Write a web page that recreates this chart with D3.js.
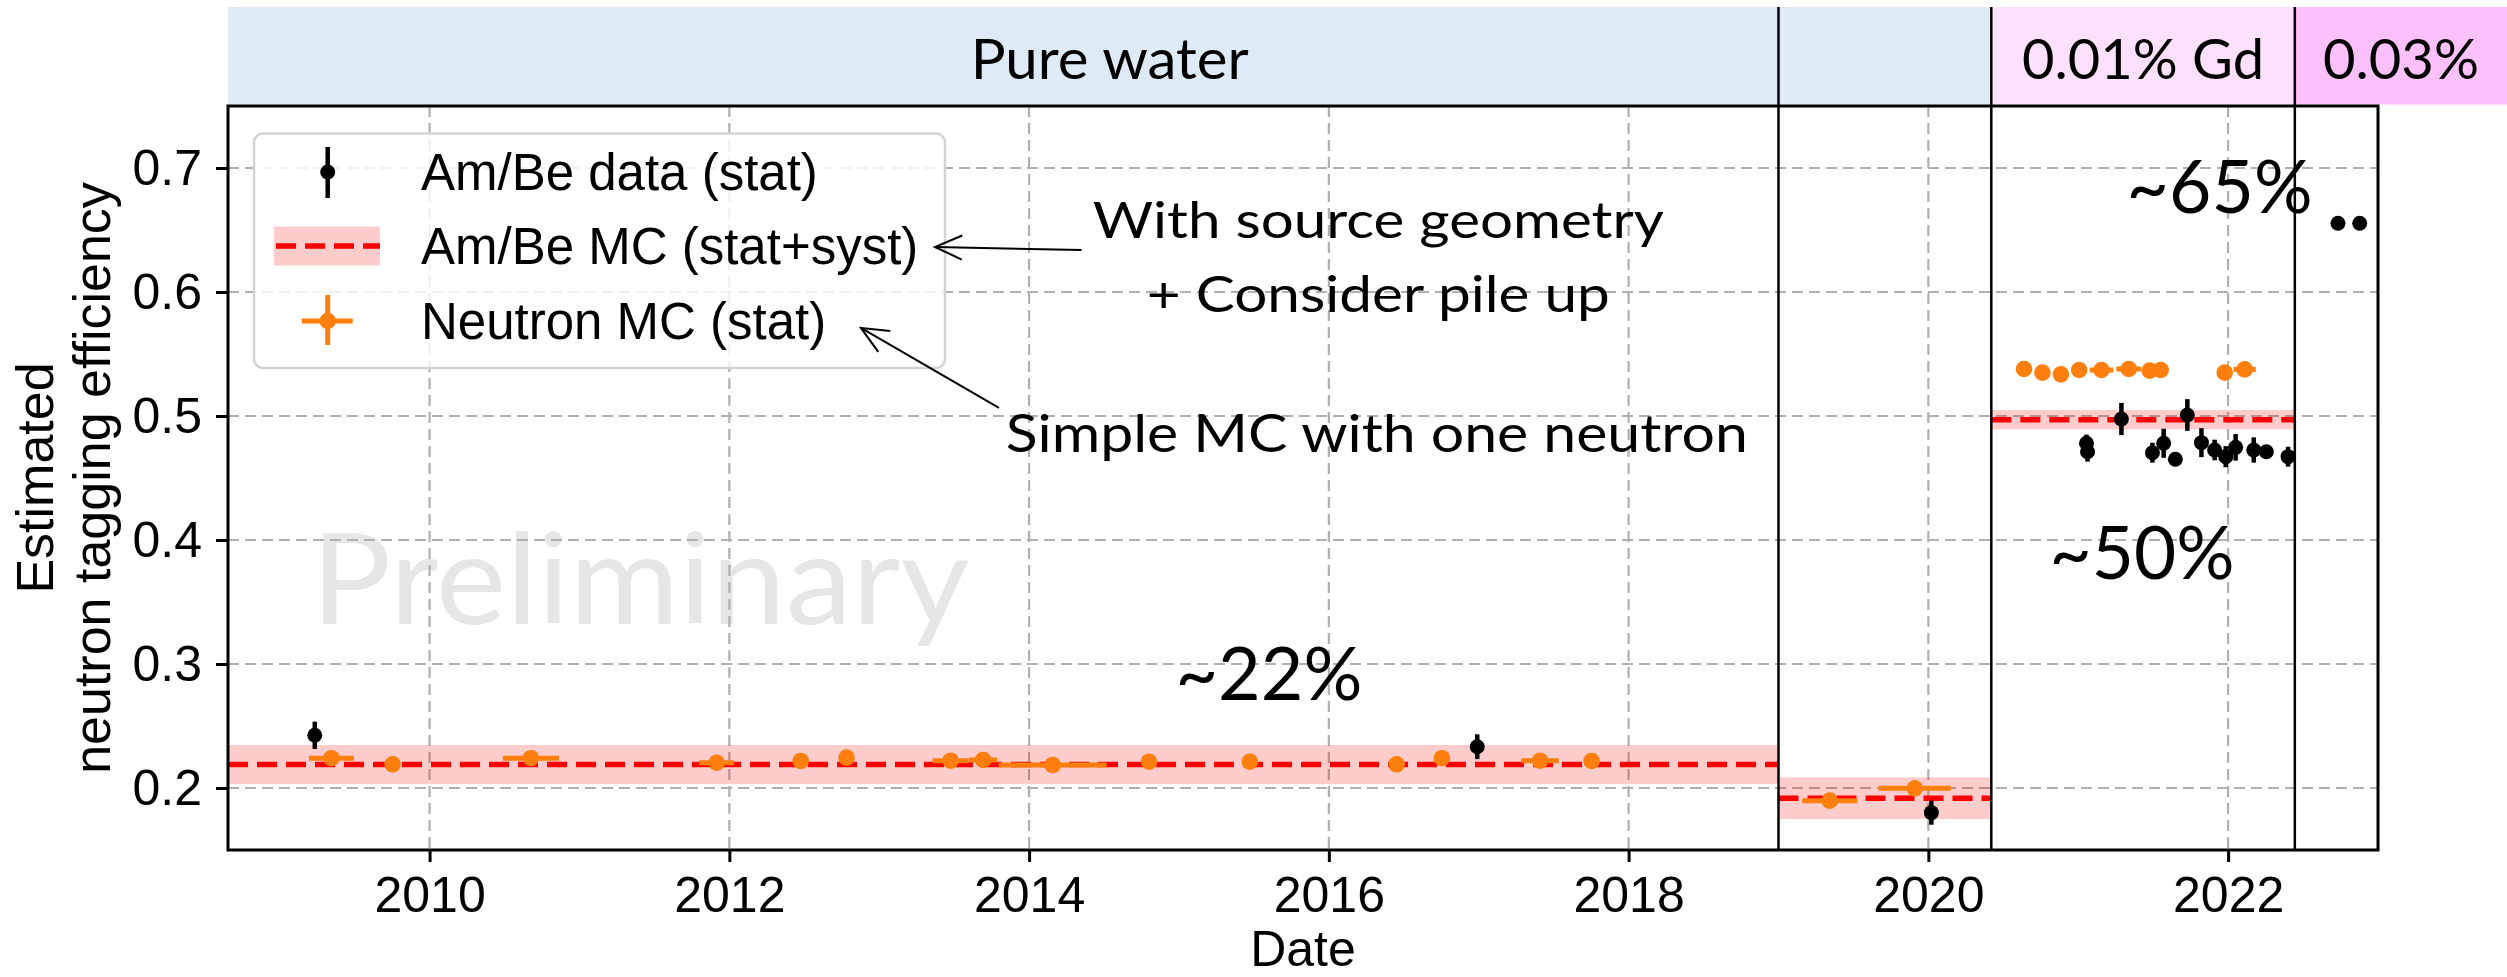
<!DOCTYPE html>
<html>
<head>
<meta charset="utf-8">
<script src="https://cdn.jsdelivr.net/npm/d3@7"></script>
<style>
  body { margin: 0; background: #fff; }
  svg { display: block; }
</style>
</head>
<body>
<script>
var width = 2507,
	height = 977;

// Am/Be source data (black points), decimal year
var amYear = [2009.234, 2016.990, 2020.020, 2021.055, 2021.062, 2021.288, 2021.495, 2021.570, 2021.648,
	2021.728, 2021.822, 2021.910, 2021.984, 2022.050, 2022.171, 2022.255, 2022.400, 2022.733, 2022.878];
var amEff = [0.2425, 0.2333, 0.1801, 0.4780, 0.4712, 0.4976, 0.4704, 0.4780, 0.4651,
	0.5008, 0.4785, 0.4726, 0.4672, 0.4747, 0.4726, 0.4712, 0.4672, 0.6554, 0.6554];
var amErr = [0.011, 0.010, 0.0097, 0.007, 0.008, 0.013, 0.008, 0.0117, 0.004,
	0.0128, 0.0117, 0.0083, 0.0085, 0.0107, 0.0102, 0.004, 0.008, 0.003, 0.003];

// Neutron MC (orange points)
var nYear = [2009.345, 2009.753, 2010.676, 2011.915, 2012.476, 2012.782, 2013.476, 2013.693, 2014.157,
	2014.800, 2015.473, 2016.452, 2016.754, 2017.409, 2017.753, 2019.342, 2019.909, 2020.638,
	2020.761, 2020.884, 2021.006, 2021.155, 2021.337, 2021.477, 2021.550, 2021.977, 2022.110];
var nEff = [0.2240, 0.2191, 0.2240, 0.2204, 0.2218, 0.2245, 0.2220, 0.2226, 0.2185,
	0.2212, 0.2212, 0.2191, 0.2240, 0.2220, 0.2218, 0.1898, 0.1997, 0.5379,
	0.5350, 0.5336, 0.5371, 0.5371, 0.5379, 0.5366, 0.5371, 0.5350, 0.5376];
var nXerr = [0.150, 0.020, 0.187, 0.117, 0.020, 0.020, 0.120, 0.095, 0.360,
	0.020, 0.020, 0.020, 0.020, 0.125, 0.020, 0.183, 0.241, 0.020,
	0.020, 0.020, 0.020, 0.078, 0.083, 0.020, 0.020, 0.020, 0.074];
var nYerr = [0.002, 0.002, 0.002, 0.002, 0.002, 0.002, 0.002, 0.002, 0.002,
	0.002, 0.002, 0.002, 0.002, 0.002, 0.002, 0.002, 0.002, 0.002,
	0.002, 0.002, 0.002, 0.002, 0.002, 0.002, 0.002, 0.002, 0.002];

// Am/Be MC per period (red dashed line + band)
var mcStart = [2008.0, 2019.0, 2020.42];
var mcEnd = [2019.0, 2020.42, 2022.445];
var mcEff = [0.2189, 0.1918, 0.4970];
var mcErr = [0.0158, 0.0168, 0.0078];

// Detector phases shown in the header strip
var phaseLabel = ["Pure water", "0.01% Gd", "0.03%"];
var phaseStart = [2008.655, 2020.42, 2022.445];
var phaseColor = ["#deebf7", "#fde0fb", "#fcc0fa"];
var separators = [2019.0, 2020.42, 2022.445];

var xTicks = [2010, 2012, 2014, 2016, 2018, 2020, 2022];
var yTicks = [0.2, 0.3, 0.4, 0.5, 0.6, 0.7];
var legendLabels = ["Am/Be data (stat)", "Am/Be MC (stat+syst)", "Neutron MC (stat)"];

var mplFont = "'Liberation Sans', Arial, Helvetica, sans-serif";
var pptFont = "Lato, 'Open Sans', sans-serif";
var orange = "#ff7f0e";

var plotLeft = 228, plotRight = 2378, plotTop = 106, plotBottom = 850;

var x = d3.scaleLinear().domain([2008.655, 2023.0]).range([plotLeft, plotRight]);
var y = d3.scaleLinear().domain([0.15, 0.75]).range([plotBottom, plotTop]);

var svg = d3.select("body").append("svg")
	.attr("width", width)
	.attr("height", height);

svg.append("clipPath").attr("id", "plot")
	.append("rect")
	.attr("x", plotLeft).attr("y", plotTop)
	.attr("width", plotRight - plotLeft).attr("height", plotBottom - plotTop);

// Header strip
var header = svg.append("g");
header.selectAll("rect")
	.data(phaseLabel)
	.enter().append("rect")
	.attr("x", function(d, i) { return x(phaseStart[i]); })
	.attr("y", 7)
	.attr("width", function(d, i) {
		var end = i < phaseLabel.length - 1 ? x(phaseStart[i + 1]) : width;
		return end - x(phaseStart[i]);
	})
	.attr("height", 97.5)
	.attr("fill", function(d, i) { return phaseColor[i]; });

var headerWidths = [278, 242, 156];
header.selectAll("text")
	.data(phaseLabel)
	.enter().append("text")
	.attr("x", function(d, i) {
		var end = i < phaseLabel.length - 1 ? x(phaseStart[i + 1]) : width;
		return (x(phaseStart[i]) + end) / 2;
	})
	.attr("y", 79)
	.attr("text-anchor", "middle")
	.attr("font-family", pptFont)
	.attr("font-size", 56)
	.attr("textLength", function(d, i) { return headerWidths[i]; })
	.attr("lengthAdjust", "spacingAndGlyphs")
	.text(function(d) { return d; });

// Watermark sits under the grid
svg.append("text")
	.attr("x", x(2009.21))
	.attr("y", y(0.3323))
	.attr("font-family", pptFont)
	.attr("font-size", 127)
	.attr("fill", "#e6e6e6")
	.attr("textLength", 658)
	.attr("lengthAdjust", "spacingAndGlyphs")
	.text("Preliminary");

// Grid
var grid = svg.append("g")
	.attr("stroke", "#b0b0b0")
	.attr("stroke-width", 2.2)
	.attr("stroke-dasharray", "11,6");
grid.selectAll(".h").data(yTicks).enter().append("line")
	.attr("x1", plotLeft).attr("x2", plotRight)
	.attr("y1", function(d) { return y(d); })
	.attr("y2", function(d) { return y(d); });
grid.selectAll(".v").data(xTicks).enter().append("line")
	.attr("y1", plotTop).attr("y2", plotBottom)
	.attr("x1", function(d) { return x(d); })
	.attr("x2", function(d) { return x(d); });

var plot = svg.append("g").attr("clip-path", "url(#plot)");

// MC bands and dashed central values
plot.selectAll(".band").data(mcEff).enter().append("rect")
	.attr("x", function(d, i) { return x(mcStart[i]); })
	.attr("width", function(d, i) { return x(mcEnd[i]) - x(mcStart[i]); })
	.attr("y", function(d, i) { return y(d + mcErr[i]); })
	.attr("height", function(d, i) { return y(d - mcErr[i]) - y(d + mcErr[i]); })
	.attr("fill", "red")
	.attr("fill-opacity", 0.2);

plot.selectAll(".mc").data(mcEff).enter().append("line")
	.attr("x1", function(d, i) { return Math.max(x(mcStart[i]), plotLeft); })
	.attr("x2", function(d, i) { return x(mcEnd[i]); })
	.attr("y1", function(d) { return y(d); })
	.attr("y2", function(d) { return y(d); })
	.attr("stroke", "red")
	.attr("stroke-width", 5.5)
	.attr("stroke-dasharray", "20,9");

// Neutron MC points
var neutron = nYear.map(function(t, i) {
	return { t: t, v: nEff[i], xe: nXerr[i], ye: nYerr[i] };
});
var ng = plot.append("g");
ng.selectAll(".xe").data(neutron).enter().append("line")
	.attr("x1", function(d) { return x(d.t - d.xe); })
	.attr("x2", function(d) { return x(d.t + d.xe); })
	.attr("y1", function(d) { return y(d.v); })
	.attr("y2", function(d) { return y(d.v); })
	.attr("stroke", orange).attr("stroke-width", 5);
ng.selectAll(".ye").data(neutron).enter().append("line")
	.attr("x1", function(d) { return x(d.t); })
	.attr("x2", function(d) { return x(d.t); })
	.attr("y1", function(d) { return y(d.v - d.ye); })
	.attr("y2", function(d) { return y(d.v + d.ye); })
	.attr("stroke", orange).attr("stroke-width", 5);
ng.selectAll("circle").data(neutron).enter().append("circle")
	.attr("cx", function(d) { return x(d.t); })
	.attr("cy", function(d) { return y(d.v); })
	.attr("r", 8.3)
	.attr("fill", orange);

// Am/Be data points
var amData = amYear.map(function(t, i) {
	return { t: t, v: amEff[i], e: amErr[i] };
});
var ag = plot.append("g");
ag.selectAll("line").data(amData).enter().append("line")
	.attr("x1", function(d) { return x(d.t); })
	.attr("x2", function(d) { return x(d.t); })
	.attr("y1", function(d) { return y(d.v - d.e); })
	.attr("y2", function(d) { return y(d.v + d.e); })
	.attr("stroke", "black").attr("stroke-width", 4.5);
ag.selectAll("circle").data(amData).enter().append("circle")
	.attr("cx", function(d) { return x(d.t); })
	.attr("cy", function(d) { return y(d.v); })
	.attr("r", 7.5)
	.attr("fill", "black");

// Period separators, running through the header
svg.selectAll(".sep").data(separators).enter().append("line")
	.attr("x1", function(d) { return x(d); })
	.attr("x2", function(d) { return x(d); })
	.attr("y1", 7).attr("y2", plotBottom)
	.attr("stroke", "black").attr("stroke-width", 2.5);

// Axes
var xAxis = svg.append("g")
	.attr("transform", "translate(0," + plotBottom + ")")
	.call(d3.axisBottom(x).tickValues(xTicks).tickFormat(d3.format("d"))
		.tickSize(12).tickPadding(14).tickSizeOuter(0));
var yAxis = svg.append("g")
	.attr("transform", "translate(" + plotLeft + ",0)")
	.call(d3.axisLeft(y).tickValues(yTicks).tickFormat(d3.format(".1f"))
		.tickSize(12).tickPadding(14).tickSizeOuter(0));
[xAxis, yAxis].forEach(function(a) {
	a.selectAll("text").attr("font-family", mplFont).attr("font-size", 50).attr("fill", "black");
	a.selectAll("line").attr("stroke", "black").attr("stroke-width", 3);
	a.select(".domain").remove();
});

svg.append("rect")
	.attr("x", plotLeft).attr("y", plotTop)
	.attr("width", plotRight - plotLeft).attr("height", plotBottom - plotTop)
	.attr("fill", "none")
	.attr("stroke", "black")
	.attr("stroke-width", 3);

svg.append("text")
	.attr("x", (plotLeft + plotRight) / 2)
	.attr("y", 966)
	.attr("text-anchor", "middle")
	.attr("font-family", mplFont)
	.attr("font-size", 50)
	.text("Date");

var ylab = svg.append("text")
	.attr("transform", "translate(0," + (plotTop + plotBottom) / 2 + ") rotate(-90)")
	.attr("text-anchor", "middle")
	.attr("font-family", mplFont)
	.attr("font-size", 52);
ylab.append("tspan").attr("x", 0).attr("y", 53).text("Estimated");
ylab.append("tspan").attr("x", 0).attr("y", 110).text("neutron tagging efficiency");

// Legend
var legend = svg.append("g");
legend.append("rect")
	.attr("x", 254).attr("y", 133.5)
	.attr("width", 691).attr("height", 234.5)
	.attr("rx", 9)
	.attr("fill", "white").attr("fill-opacity", 0.8)
	.attr("stroke", "#d4d4d4").attr("stroke-width", 2.5);

var hx = 327.7, rowY = [172, 246, 321];
legend.append("line")
	.attr("x1", hx).attr("x2", hx).attr("y1", rowY[0] - 25).attr("y2", rowY[0] + 26)
	.attr("stroke", "black").attr("stroke-width", 4.5);
legend.append("circle").attr("cx", hx).attr("cy", rowY[0]).attr("r", 7.5).attr("fill", "black");

legend.append("rect")
	.attr("x", 274).attr("y", rowY[1] - 19.5).attr("width", 106).attr("height", 39)
	.attr("fill", "red").attr("fill-opacity", 0.2);
legend.append("line")
	.attr("x1", 276).attr("x2", 380).attr("y1", rowY[1]).attr("y2", rowY[1])
	.attr("stroke", "red").attr("stroke-width", 5.5).attr("stroke-dasharray", "20,9");

legend.append("line")
	.attr("x1", hx - 26).attr("x2", hx + 25).attr("y1", rowY[2]).attr("y2", rowY[2])
	.attr("stroke", orange).attr("stroke-width", 5);
legend.append("line")
	.attr("x1", hx).attr("x2", hx).attr("y1", rowY[2] - 26).attr("y2", rowY[2] + 24)
	.attr("stroke", orange).attr("stroke-width", 5);
legend.append("circle").attr("cx", hx).attr("cy", rowY[2]).attr("r", 8.3).attr("fill", orange);

legend.selectAll("text").data(legendLabels).enter().append("text")
	.attr("x", 421)
	.attr("y", function(d, i) { return rowY[i] + 18; })
	.attr("font-family", mplFont)
	.attr("font-size", 51)
	.text(function(d) { return d; });

// Annotations (placed in data coordinates)
var notes = [
	{ text: "With source geometry", t: 2016.33, v: 0.6435, size: 51, w: 571 },
	{ text: "+ Consider pile up", t: 2016.33, v: 0.5839, size: 51, w: 463 },
	{ text: "Simple MC with one neutron", t: 2016.32, v: 0.4710, size: 52, w: 742 },
	{ text: "~22%", t: 2015.60, v: 0.2710, size: 74, w: 187 },
	{ text: "~50%", t: 2021.426, v: 0.3685, size: 74, w: 185 },
	{ text: "~65%", t: 2021.943, v: 0.6637, size: 74, w: 186 }
];
svg.selectAll(".note").data(notes).enter().append("text")
	.attr("x", function(d) { return x(d.t); })
	.attr("y", function(d) { return y(d.v); })
	.attr("text-anchor", "middle")
	.attr("font-family", pptFont)
	.attr("font-size", function(d) { return d.size; })
	.attr("textLength", function(d) { return d.w; })
	.attr("lengthAdjust", "spacingAndGlyphs")
	.text(function(d) { return d.text; });

var arrows = [
	{ t0: 2014.35, v0: 0.6339, t1: 2013.372, v1: 0.6363 },
	{ t0: 2013.799, v0: 0.5065, t1: 2012.878, v1: 0.5710 }
];
arrows.forEach(function(a) {
	var x0 = x(a.t0), y0 = y(a.v0), x1 = x(a.t1), y1 = y(a.v1);
	var ang = Math.atan2(y1 - y0, x1 - x0);
	var len = 27, half = 12;
	var bx = x1 - len * Math.cos(ang), by = y1 - len * Math.sin(ang);
	var px = -Math.sin(ang) * half, py = Math.cos(ang) * half;
	var g = svg.append("g").attr("stroke", "black").attr("stroke-width", 2).attr("fill", "none");
	g.append("line").attr("x1", x0).attr("y1", y0).attr("x2", x1).attr("y2", y1);
	g.append("path").attr("d", "M" + (bx + px) + "," + (by + py) + "L" + x1 + "," + y1 + "L" + (bx - px) + "," + (by - py));
});
</script>
</body>
</html>
